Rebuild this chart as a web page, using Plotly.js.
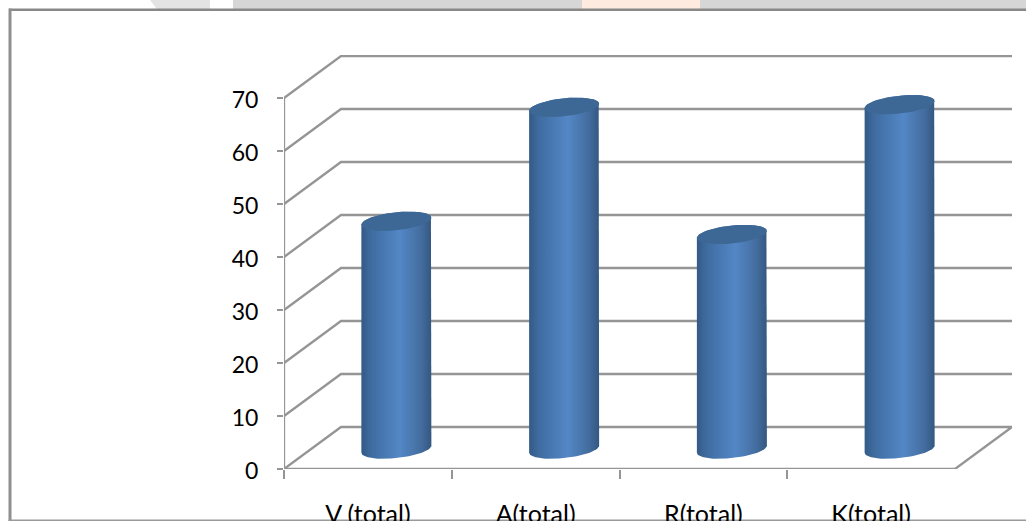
<!DOCTYPE html>
<html>
<head>
<meta charset="utf-8">
<script src="https://cdn.plot.ly/plotly-3.0.1.min.js"></script>
<style>html,body{margin:0;padding:0;background:#fff;overflow:hidden}</style>
</head>
<body>
<div id="chart" style="width:1026px;height:521px"></div>
<script>
// Chart data
const categories = ["V (total)", "A(total)", "R(total)", "K(total)"];
const values = [43, 64.5, 40.5, 65];
const gridValues = [10, 20, 30, 40, 50, 60, 70];
const yTicks = [0, 10, 20, 30, 40, 50, 60, 70];

// Page and plot geometry, in pixels
const W = 1026, H = 521;
const M = {l: 284, r: 14, t: 55, b: 52};
const plotW = W - M.l - M.r, plotH = H - M.t - M.b;
const pxPerCat = 167.75, pxPerUnit = 5.3;

// Oblique offset of the back wall from the front plane, in axis units
const depthX = 57 / pxPerCat, depthY = 42 / pxPerUnit;

const GREY = "#959595";
const line = (x, y, width = 2.3, color = GREY) => ({
  type: "scatter", mode: "lines", x, y, hoverinfo: "skip", showlegend: false,
  line: {color, width, shape: "linear"}
});

const traces = [];

// Back-wall gridlines running in from the front axis
gridValues.forEach(v => traces.push(line(
  [0, depthX, categories.length + depthX],
  [v, v + depthY, v + depthY])));

// Floor outline
traces.push(line(
  [0, depthX, categories.length + depthX, categories.length],
  [0, depthY, depthY, 0]));

// Front axis lines
traces.push(line([0, 0], [0, 70]));
traces.push(line([0, categories.length], [0, 0]));

// Cylinders: sheared ellipses for the two ends, horizontal gradient on the body
const radiusX = 35 / pxPerCat, radiusY = 9 / pxPerUnit, shear = 3.5 / pxPerUnit;
const baseY = 3.75;
const arc = (cx, cy, from, to, n = 40) => {
  const xs = [], ys = [];
  for (let i = 0; i <= n; i++) {
    const t = from + (to - from) * i / n;
    xs.push(cx + radiusX * Math.cos(t));
    ys.push(cy + radiusY * Math.sin(t) + shear * Math.cos(t));
  }
  return [xs, ys];
};
values.forEach((v, i) => {
  const cx = i + 0.5 + depthX / 2;
  const top = baseY + v;
  const [bx, by] = arc(cx, baseY, Math.PI, 2 * Math.PI);
  const [tx, ty] = arc(cx, top, 0, Math.PI);
  traces.push({
    type: "scatter", mode: "lines", hoverinfo: "skip", showlegend: false,
    x: bx.concat(tx), y: by.concat(ty), fill: "toself",
    line: {width: 0, color: "rgba(0,0,0,0)"},
    fillgradient: {
      type: "horizontal",
      colorscale: [[0, "#335a86"], [0.14, "#3f6ca0"], [0.55, "#5387c6"],
                   [0.85, "#446d9f"], [1, "#335780"]]
    }
  });
  const [cxs, cys] = arc(cx, top, 0, 2 * Math.PI, 80);
  traces.push({
    type: "scatter", mode: "lines", hoverinfo: "skip", showlegend: false,
    x: cxs, y: cys, fill: "toself", fillcolor: "#3d6794",
    line: {width: 0, color: "rgba(0,0,0,0)"}
  });
});

// Invisible trace on the second x axis so that its tick labels appear
traces.push({type: "scatter", mode: "none", x: [0.5], y: [0], xaxis: "x2",
             hoverinfo: "skip", showlegend: false});

// Page furniture, given in pixels and converted to paper fractions
const px = x => (x - M.l) / plotW;
const py = y => 1 - (y - M.t) / plotH;
const rect = (x0, y0, x1, y1, color) => ({
  type: "rect", xref: "paper", yref: "paper", layer: "below",
  x0: px(x0), x1: px(x1), y0: py(y0), y1: py(y1),
  fillcolor: color, line: {width: 0}
});
const slanted = {
  type: "path", xref: "paper", yref: "paper", layer: "below",
  path: `M ${px(150)} ${py(0)} L ${px(210)} ${py(0)} L ${px(210)} ${py(9)} L ${px(157)} ${py(9)} Z`,
  fillcolor: "#e3e3e3", line: {width: 0}
};
const shapes = [
  slanted,
  rect(233, 0, 582, 9, "#d6d6d6"),
  rect(582, 0, 700, 9, "#ffeadf"),
  rect(700, 0, W, 9, "#d6d6d6"),
  rect(9, 8.5, W, 11, "#888888"),
  rect(8.5, 8.5, 11.5, H, "#8f8f8f"),
  rect(8.5, 519.5, W, H, "#9a9a9a")
];

const xSpan = [0, plotW / pxPerCat];
const axisFont = {family: "Lato, 'Open Sans', sans-serif", size: 23, color: "#000000"};
const catFont = {family: "Lato, 'Open Sans', sans-serif", size: 25, color: "#000000"};

const layout = {
  width: W, height: H, autosize: false,
  margin: {l: M.l, r: M.r, t: M.t, b: M.b, pad: 0},
  paper_bgcolor: "#ffffff", plot_bgcolor: "rgba(0,0,0,0)",
  showlegend: false,
  xaxis: {
    range: xSpan, tickmode: "array",
    tickvals: categories.map((_, i) => i),
    ticktext: categories.map(() => ""),
    ticks: "outside", ticklen: 9, tickwidth: 2, tickcolor: GREY,
    showgrid: false, zeroline: false, showline: false, fixedrange: true
  },
  xaxis2: {
    overlaying: "x", side: "bottom", range: xSpan, tickmode: "array",
    tickvals: categories.map((_, i) => i + 0.5),
    ticktext: categories,
    ticks: "", ticklabelstandoff: 28, tickfont: catFont,
    showgrid: false, zeroline: false, showline: false, fixedrange: true
  },
  yaxis: {
    range: [0, plotH / pxPerUnit], tickmode: "array",
    tickvals: yTicks, ticktext: yTicks.map(String),
    ticks: "outside", ticklen: 6, tickwidth: 2, tickcolor: GREY,
    ticklabelstandoff: 14, ticklabelshift: 2, tickfont: axisFont,
    showgrid: false, zeroline: false, showline: false, fixedrange: true
  },
  shapes
};

Plotly.newPlot("chart", traces, layout, {displayModeBar: false, staticPlot: true});
</script>
</body>
</html>
